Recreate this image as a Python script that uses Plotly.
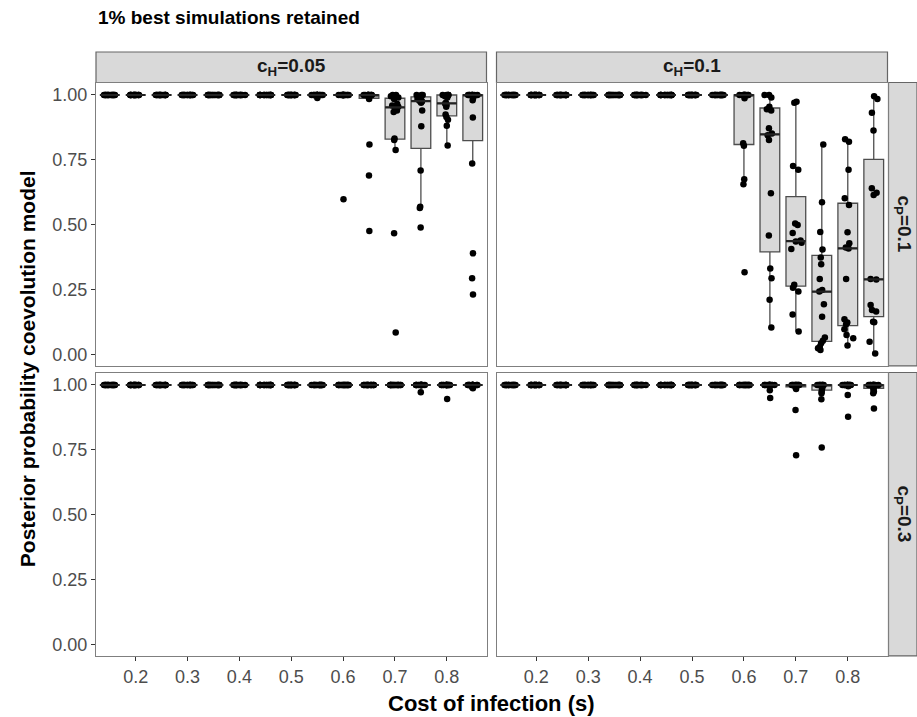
import statistics
import plotly.graph_objects as go

# ---------------- data ----------------
cost = [0.15, 0.2, 0.25, 0.3, 0.35, 0.4, 0.45, 0.5, 0.55, 0.6, 0.65, 0.7, 0.75, 0.8, 0.85]
x_ticks = [0.2, 0.3, 0.4, 0.5, 0.6, 0.7, 0.8]
x_tick_labels = ["0.2", "0.3", "0.4", "0.5", "0.6", "0.7", "0.8"]
y_ticks = [0.0, 0.25, 0.5, 0.75, 1.0]
y_tick_labels = ["0.00", "0.25", "0.50", "0.75", "1.00"]
col_labels = ["c<sub>H</sub>=0.05", "c<sub>H</sub>=0.1"]
row_labels = ["c<sub>P</sub>=0.1", "c<sub>P</sub>=0.3"]

# cH=0.05, cP=0.1
post_h005_p01 = [
    [1, 1, 1, 1, 1, 1, 1, 1, 1, 1, 1, 1, 1, 1, 1, 1],
    [1, 1, 1, 1, 1, 1, 1, 1, 1, 1, 1, 1, 1, 1, 1, 1],
    [1, 1, 1, 1, 1, 1, 1, 1, 1, 1, 1, 1, 1, 1, 1, 1],
    [1, 1, 1, 1, 1, 1, 1, 1, 1, 1, 1, 1, 1, 1, 1, 1],
    [1, 1, 1, 1, 1, 1, 1, 1, 1, 1, 1, 1, 1, 1, 1, 1],
    [1, 1, 1, 1, 1, 1, 1, 1, 1, 1, 1, 1, 1, 1, 1, 1],
    [1, 1, 1, 1, 1, 1, 1, 1, 1, 1, 1, 1, 1, 1, 1, 1],
    [1, 1, 1, 1, 1, 1, 1, 1, 1, 1, 1, 1, 1, 1, 1, 1],
    [1, 1, 1, 1, 1, 1, 1, 1, 1, 1, 1, 1, 1, 1, 1, 0.988],
    [1, 1, 1, 1, 1, 1, 1, 1, 1, 1, 1, 1, 1, 1, 1, 0.599],
    [1, 1, 1, 1, 1, 1, 1, 1, 1, 1, 1, 0.99, 0.985, 0.81, 0.69, 0.477],
    [1, 1, 0.995, 0.99, 0.985, 0.965, 0.96, 0.955, 0.95, 0.94, 0.935, 0.833, 0.827, 0.788, 0.468, 0.086],
    [1, 1, 1, 0.995, 0.99, 0.985, 0.98, 0.978, 0.975, 0.97, 0.94, 0.88, 0.71, 0.57, 0.565, 0.49],
    [1, 1, 1, 1, 1, 0.995, 0.99, 0.97, 0.966, 0.962, 0.955, 0.925, 0.915, 0.905, 0.882, 0.806],
    [1, 1, 1, 1, 1, 1, 1, 1, 1, 0.99, 0.98, 0.913, 0.736, 0.391, 0.295, 0.233],
]

# cH=0.1, cP=0.1
post_h01_p01 = [
    [1, 1, 1, 1, 1, 1, 1, 1, 1, 1, 1, 1, 1, 1, 1, 1],
    [1, 1, 1, 1, 1, 1, 1, 1, 1, 1, 1, 1, 1, 1, 1, 1],
    [1, 1, 1, 1, 1, 1, 1, 1, 1, 1, 1, 1, 1, 1, 1, 1],
    [1, 1, 1, 1, 1, 1, 1, 1, 1, 1, 1, 1, 1, 1, 1, 1],
    [1, 1, 1, 1, 1, 1, 1, 1, 1, 1, 1, 1, 1, 1, 1, 1],
    [1, 1, 1, 1, 1, 1, 1, 1, 1, 1, 1, 1, 1, 1, 1, 1],
    [1, 1, 1, 1, 1, 1, 1, 1, 1, 1, 1, 1, 1, 1, 1, 1],
    [1, 1, 1, 1, 1, 1, 1, 1, 1, 1, 1, 1, 1, 1, 1, 1],
    [1, 1, 1, 1, 1, 1, 1, 1, 1, 1, 1, 1, 1, 1, 1, 1],
    [1, 1, 1, 1, 1, 1, 1, 1, 1, 1, 0.987, 0.814, 0.805, 0.676, 0.657, 0.318],
    [1, 1, 0.99, 0.955, 0.945, 0.94, 0.872, 0.852, 0.845, 0.827, 0.622, 0.46, 0.333, 0.295, 0.212, 0.106],
    [0.974, 0.97, 0.727, 0.712, 0.506, 0.5, 0.469, 0.44, 0.436, 0.432, 0.408, 0.27, 0.259, 0.244, 0.156, 0.09],
    [0.81, 0.587, 0.473, 0.406, 0.375, 0.349, 0.292, 0.25, 0.244, 0.195, 0.147, 0.067, 0.055, 0.045, 0.032, 0.026, 0.019],
    [0.83, 0.82, 0.712, 0.603, 0.577, 0.472, 0.43, 0.413, 0.41, 0.292, 0.137, 0.125, 0.118, 0.099, 0.077, 0.064, 0.036],
    [0.995, 0.985, 0.932, 0.863, 0.641, 0.624, 0.615, 0.292, 0.29, 0.192, 0.173, 0.167, 0.128, 0.126, 0.051, 0.006],
]

# cH=0.05, cP=0.3
post_h005_p03 = [
    [1, 1, 1, 1, 1, 1, 1, 1, 1, 1, 1, 1, 1, 1, 1, 1],
    [1, 1, 1, 1, 1, 1, 1, 1, 1, 1, 1, 1, 1, 1, 1, 1],
    [1, 1, 1, 1, 1, 1, 1, 1, 1, 1, 1, 1, 1, 1, 1, 1],
    [1, 1, 1, 1, 1, 1, 1, 1, 1, 1, 1, 1, 1, 1, 1, 1],
    [1, 1, 1, 1, 1, 1, 1, 1, 1, 1, 1, 1, 1, 1, 1, 1],
    [1, 1, 1, 1, 1, 1, 1, 1, 1, 1, 1, 1, 1, 1, 1, 1],
    [1, 1, 1, 1, 1, 1, 1, 1, 1, 1, 1, 1, 1, 1, 1, 1],
    [1, 1, 1, 1, 1, 1, 1, 1, 1, 1, 1, 1, 1, 1, 1, 1],
    [1, 1, 1, 1, 1, 1, 1, 1, 1, 1, 1, 1, 1, 1, 1, 1],
    [1, 1, 1, 1, 1, 1, 1, 1, 1, 1, 1, 1, 1, 1, 1, 1],
    [1, 1, 1, 1, 1, 1, 1, 1, 1, 1, 1, 1, 1, 1, 1, 1],
    [1, 1, 1, 1, 1, 1, 1, 1, 1, 1, 1, 1, 1, 1, 1, 1],
    [1, 1, 1, 1, 1, 1, 1, 1, 1, 1, 1, 1, 1, 1, 1, 0.972],
    [1, 1, 1, 1, 1, 1, 1, 1, 1, 1, 1, 1, 1, 1, 1, 0.946],
    [1, 1, 1, 1, 1, 1, 1, 1, 1, 1, 1, 1, 1, 0.995, 0.99, 0.987],
]

# cH=0.1, cP=0.3
post_h01_p03 = [
    [1, 1, 1, 1, 1, 1, 1, 1, 1, 1, 1, 1, 1, 1, 1, 1],
    [1, 1, 1, 1, 1, 1, 1, 1, 1, 1, 1, 1, 1, 1, 1, 1],
    [1, 1, 1, 1, 1, 1, 1, 1, 1, 1, 1, 1, 1, 1, 1, 1],
    [1, 1, 1, 1, 1, 1, 1, 1, 1, 1, 1, 1, 1, 1, 1, 1],
    [1, 1, 1, 1, 1, 1, 1, 1, 1, 1, 1, 1, 1, 1, 1, 1],
    [1, 1, 1, 1, 1, 1, 1, 1, 1, 1, 1, 1, 1, 1, 1, 1],
    [1, 1, 1, 1, 1, 1, 1, 1, 1, 1, 1, 1, 1, 1, 1, 1],
    [1, 1, 1, 1, 1, 1, 1, 1, 1, 1, 1, 1, 1, 1, 1, 1],
    [1, 1, 1, 1, 1, 1, 1, 1, 1, 1, 1, 1, 1, 1, 1, 1],
    [1, 1, 1, 1, 1, 1, 1, 1, 1, 1, 1, 1, 1, 1, 1, 1],
    [1, 1, 1, 1, 1, 1, 1, 1, 1, 1, 1, 1, 1, 1, 0.98, 0.95],
    [1, 1, 1, 1, 1, 1, 1, 1, 1, 1, 1, 0.995, 0.99, 0.985, 0.904, 0.73],
    [1, 1, 1, 1, 1, 1, 1, 1, 1, 0.995, 0.99, 0.985, 0.975, 0.968, 0.945, 0.76],
    [1, 1, 1, 1, 1, 1, 1, 1, 1, 1, 1, 1, 1, 0.995, 0.961, 0.878],
    [1, 1, 1, 1, 1, 1, 1, 1, 1, 1, 1, 0.99, 0.985, 0.975, 0.968, 0.91],
]

panels = [[post_h005_p01, post_h01_p01], [post_h005_p03, post_h01_p03]]

# ---------------- layout geometry ----------------
W, H = 917, 717
FONT = "Liberation Sans, Arial, Helvetica, sans-serif"
BOX_W = 0.038


def fx(p):
    return p / W


def fy(p):
    return 1 - p / H


col_px = [(96, 486.5), (496.5, 887.5)]
row_px = [(82.5, 365.9), (372.5, 655.9)]
strip_top = 52
strip_right = (888.5, 917)

fig = go.Figure()
layout = dict(
    width=W, height=H,
    margin=dict(l=0, r=0, t=0, b=0),
    paper_bgcolor="white", plot_bgcolor="white",
    showlegend=False,
    font=dict(family=FONT, color="#4D4D4D"),
)
shapes = []
annotations = []

for r in range(2):
    for c in range(2):
        k = r * 2 + c + 1
        xa = "x" if k == 1 else f"x{k}"
        ya = "y" if k == 1 else f"y{k}"
        xs, ys = [], []
        for pos, vals in zip(cost, panels[r][c]):
            xs.extend([pos] * len(vals))
            ys.extend(vals)
        # boxes with 1.5*IQR whiskers (outlier markers hidden; points drawn below)
        fig.add_trace(go.Box(
            x=xs, y=ys, xaxis=xa, yaxis=ya,
            width=BOX_W, boxpoints="outliers",
            marker=dict(color="rgba(0,0,0,0)", size=1),
            fillcolor="#D9D9D9",
            line=dict(color="#4D4D4D", width=1.3),
            whiskerwidth=0, hoverinfo="skip",
        ))
        # thicker median bars, computed from the data
        mx, my = [], []
        for pos, vals in zip(cost, panels[r][c]):
            med = statistics.median(vals)
            mx.extend([pos - BOX_W / 2, pos + BOX_W / 2, None])
            my.extend([med, med, None])
        fig.add_trace(go.Scatter(
            x=mx, y=my, xaxis=xa, yaxis=ya, mode="lines",
            line=dict(color="#222222", width=2.2), hoverinfo="skip",
        ))
        # jittered points on top
        fig.add_trace(go.Box(
            x=xs, y=ys, xaxis=xa, yaxis=ya,
            width=BOX_W, boxpoints="all", jitter=0.6, pointpos=0,
            fillcolor="rgba(0,0,0,0)",
            line=dict(color="rgba(0,0,0,0)", width=0),
            marker=dict(color="black", size=6.5),
            whiskerwidth=0, hoverinfo="skip",
        ))
        xname = "xaxis" if k == 1 else f"xaxis{k}"
        yname = "yaxis" if k == 1 else f"yaxis{k}"
        bottom = r == 1
        left = c == 0
        layout[xname] = dict(
            domain=[fx(col_px[c][0]), fx(col_px[c][1])],
            anchor=ya,
            range=[0.1235, 0.8765],
            tickvals=x_ticks, ticktext=x_tick_labels,
            showticklabels=bottom,
            ticks="outside" if bottom else "",
            ticklen=4, tickcolor="#333333",
            tickfont=dict(size=18, color="#4D4D4D"),
            showline=True, mirror=True, linecolor="#7F7F7F", linewidth=1.3,
            showgrid=False, zeroline=False,
        )
        layout[yname] = dict(
            domain=[fy(row_px[r][1]), fy(row_px[r][0])],
            anchor=xa,
            range=[-0.042, 1.048],
            tickvals=y_ticks, ticktext=y_tick_labels,
            showticklabels=left,
            ticks="outside" if left else "",
            ticklen=4, tickcolor="#333333",
            tickfont=dict(size=18, color="#4D4D4D"),
            showline=True, mirror=True, linecolor="#7F7F7F", linewidth=1.3,
            showgrid=False, zeroline=False,
        )

# top strips
for c in range(2):
    shapes.append(dict(type="rect", xref="paper", yref="paper",
                       x0=fx(col_px[c][0]), x1=fx(col_px[c][1]),
                       y0=fy(row_px[0][0]), y1=fy(strip_top),
                       fillcolor="#D9D9D9", line=dict(color="#666666", width=1.2),
                       layer="below"))
    annotations.append(dict(xref="paper", yref="paper",
                            x=fx((col_px[c][0] + col_px[c][1]) / 2),
                            y=fy((strip_top + row_px[0][0]) / 2),
                            text=f"<b>{col_labels[c]}</b>", showarrow=False,
                            xanchor="center", yanchor="middle",
                            font=dict(size=19, color="#1A1A1A", family=FONT)))
# right strips
for r in range(2):
    shapes.append(dict(type="rect", xref="paper", yref="paper",
                       x0=fx(strip_right[0]), x1=fx(strip_right[1]),
                       y0=fy(row_px[r][1]), y1=fy(row_px[r][0]),
                       fillcolor="#D9D9D9", line=dict(color="#666666", width=1.2),
                       layer="below"))
    annotations.append(dict(xref="paper", yref="paper",
                            x=fx((strip_right[0] + strip_right[1]) / 2),
                            y=fy((row_px[r][0] + row_px[r][1]) / 2),
                            text=f"<b>{row_labels[r]}</b>", showarrow=False,
                            textangle=90,
                            xanchor="center", yanchor="middle",
                            font=dict(size=19, color="#1A1A1A", family=FONT)))

# titles
annotations.append(dict(xref="paper", yref="paper", x=fx(96), y=fy(18),
                        text="<b>1% best simulations retained</b>", showarrow=False,
                        xanchor="left", yanchor="middle",
                        font=dict(size=19, color="black", family=FONT)))
annotations.append(dict(xref="paper", yref="paper",
                        x=fx((col_px[0][0] + col_px[1][1]) / 2), y=fy(703),
                        text="<b>Cost of infection (s)</b>", showarrow=False,
                        xanchor="center", yanchor="middle",
                        font=dict(size=22, color="black", family=FONT)))
annotations.append(dict(xref="paper", yref="paper",
                        x=fx(27), y=fy((row_px[0][0] + row_px[1][1]) / 2),
                        text="<b>Posterior probability coevolution model</b>", showarrow=False,
                        textangle=-90,
                        xanchor="center", yanchor="middle",
                        font=dict(size=21, color="black", family=FONT)))

layout["shapes"] = shapes
layout["annotations"] = annotations
fig.update_layout(**layout)
fig.write_html("out.html")
